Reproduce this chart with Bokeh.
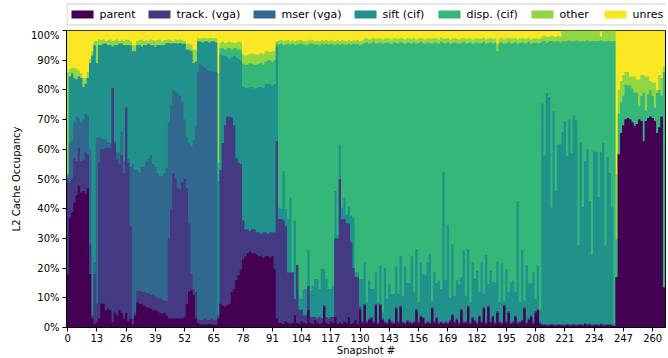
from bokeh.plotting import figure
from bokeh.layouts import column
from bokeh.models import Range1d, FixedTicker
from bokeh.core.properties import value
from bokeh.embed import file_html
from bokeh.resources import INLINE

# Stack order (bottom to top) and viridis colours
series = ["parent", "track. (vga)", "mser (vga)", "sift (cif)", "disp. (cif)", "other", "unres"]
palette = ["#440154", "#443983", "#31688e", "#21918c", "#35b779", "#90d743", "#fde725"]

snapshot = list(range(266))

x_tick_values = [0, 13, 26, 39, 52, 65, 78, 91, 104, 117, 130, 143, 156, 169, 182, 195, 208, 221, 234, 247, 260]
y_tick_values = [0, 10, 20, 30, 40, 50, 60, 70, 80, 90, 100]
y_tick_labels = ["0%", "10%", "20%", "30%", "40%", "50%", "60%", "70%", "80%", "90%", "100%"]

# Cumulative occupancy (%) at the top of each layer, per snapshot
parent_top = [
    18, 37, 38.7, 42, 44.5, 47.6, 45.4, 46, 45, 47, 18, 3, 1.2,
    1.8, 3, 8, 8, 5.7, 6.3, 5.7, 1.8, 5, 4, 5.7, 5, 3, 5, 2, 3, 1, 4, 8.5, 8, 8, 7.4, 6.8, 6.6, 6.3, 5.7, 6, 5.5, 5, 4.6, 5,
    4, 3, 3, 3, 3, 3, 3, 3, 3.5, 8, 12, 12.5, 11, 3, 1.5, 1, 1, 1, 1, 1.2, 1, 1, 1, 3,
    8, 7.5, 7, 7.5, 8, 12, 13, 16, 17.5, 19.5, 23, 24, 25, 25.5, 25, 25, 24.5, 24, 24, 23.5, 24, 24, 23.5, 24, 19.7,
    3, 1.5, 1.5, 1.2, 2, 1.5, 1.2, 1.5, 4, 1.5, 1.2, 2, 1.5, 1.2, 6, 1.5, 1.2, 2.5, 1.5, 1.2,
    1.5, 6.8, 1.5, 1.2, 2, 1.5, 3.5, 1.2, 1.5, 1.2, 2, 1.5, 3.5, 1.2, 1.5, 2.5, 1.2, 6, 1.5,
    7.4, 1.5, 2.5, 3, 1.5, 7.4, 1.2, 7.4, 2.5, 1.5, 1.2, 2.5, 1.5, 1.2, 6.3, 1.5, 6.8, 1.5, 1.2, 2, 1.5, 1.2, 1.5,
    5.7, 1.5, 3.5, 3, 1.2, 1.5, 1.2, 6.3, 1.5, 3, 1.2, 1.5, 1.2, 1.5, 1.2, 2, 4, 1.5, 2.5, 1.2, 5.7, 1.5,
    1.5, 6.8, 1.2, 3, 2, 1.2, 3.5, 1.5, 6.3, 1.2, 6.8, 1.5, 3.5, 1.2, 5, 1.5, 1.2, 7.2, 1.5, 5, 1.2, 1.5, 3.5, 1.2,
    1.5, 2, 6.3, 1.2, 2.5, 3.5, 1.2, 5, 5.7, 1.2,
    0.7, 0.8, 0.6, 0.7, 0.9, 0.7, 0.6, 0.8, 0.7, 0.7, 0.6, 0.8, 0.7, 0.7, 0.9, 0.6, 0.7, 0.8, 0.6, 1.2, 0.7, 1.0,
    0.6, 0.7, 0.8, 0.6, 1.0, 0.7, 0.6, 0.8, 0.7, 0.6,
    0.5, 16.9, 58.3, 65.5, 68, 70, 70.5, 70, 69, 67.8, 68.5, 70, 69.5, 62.7, 69.5, 70.5, 71, 70.5, 69.5, 65.5, 67.3, 71, 13.5,
]

track_top = [
    50, 48.8, 50.4, 57, 56, 60.5, 56, 56.6, 58.8, 58.3, 28, 4, 18,
    8, 55.5, 60, 60, 60.5, 60.5, 60.5, 80.6, 62, 56.6, 55, 58, 52, 74, 55.5, 34, 3, 5, 12.5, 12.5, 12, 12, 11.5, 11.5,
    11, 11, 10.5, 10, 10, 9.5, 9,
    9, 30, 40, 52, 50, 47, 46.5, 49, 50, 47, 35, 18, 13, 12, 3, 2.5, 2.5, 3, 2.5, 2.5, 3, 2.5, 2.5, 4,
    53, 62, 68, 71, 71, 70.6, 68, 57, 55.5, 55, 36, 33, 33, 32.5, 33, 33, 32, 32, 31.5, 32, 32, 31.5, 32, 32, 32,
    62.7, 36.5, 36.5, 36, 34, 18.5, 18.5, 18.5, 9.6, 21, 6, 6, 4, 4, 14, 3.5, 3.5, 3.5, 3, 3.5, 3, 7.5, 3.5, 3, 3.5,
    3.5, 30, 30, 50, 36.5, 36.5, 35, 35, 28.6, 20, 17, 17, 7, 2,
    7.9, 2, 3, 3.5, 2, 7.9, 1.7, 7.9, 3, 2, 1.7, 3, 2, 1.7, 6.8, 2, 7.3, 2, 1.7, 2.5, 2, 1.7, 2,
    6.2, 2, 4, 3.5, 1.7, 2, 1.7, 6.8, 2, 3.5, 1.7, 2, 1.7, 2, 1.7, 2.5, 4.5, 2, 3, 1.7, 6.2, 2,
    2, 7.3, 1.7, 3.5, 2.5, 1.7, 4, 2, 6.8, 1.7, 7.3, 2, 4, 1.7, 5.5, 2, 1.7, 7.7, 2, 5.5, 1.7, 2, 4, 1.7,
    2, 2.5, 6.8, 1.7, 3, 4, 1.7, 5.5, 6.2, 1.7,
    1, 1.1, 0.9, 1, 1.2, 1, 0.9, 1.1, 1, 1, 0.9, 1.1, 1, 1, 1.2, 0.9, 1, 1.1, 0.9, 1.5, 1, 1.3,
    0.9, 1, 1.1, 0.9, 1.3, 1, 0.9, 1.1, 1, 0.9,
    0.5, 16.9, 58.3, 65.5, 68, 70, 70.5, 70, 69, 67.8, 68.5, 70, 69.5, 62.7, 69.5, 70.5, 71, 70.5, 69.5, 65.5, 67.3, 71, 13.5,
]

mser_top = [
    50.5, 62, 63, 69, 71, 70.5, 69, 70, 72, 71.5, 60, 4, 22,
    64, 64, 64, 63.5, 63.5, 62.5, 62, 80.6, 63, 59, 59, 66, 56, 74, 57, 54, 55, 53, 53, 52, 54, 54, 56, 57,
    58, 55, 54, 52, 51, 51, 52,
    53.8, 69, 75, 80, 79.5, 79, 78, 76, 70, 64, 62, 61, 63, 68, 86, 88.5, 88, 87.4, 86.8, 86.2, 86.2, 86, 86, 4,
    53, 62, 68, 71, 71, 70.6, 68, 57, 55.5, 55, 36, 33, 33, 32.5, 33, 33, 32, 32, 31.5, 32, 32, 31.5, 32, 32, 32,
    62.7, 36.5, 36.5, 36, 34, 18.5, 18.5, 18.5, 9.6, 21, 6, 6, 4, 4, 14, 3.5, 3.5, 3.5, 3, 3.5, 3, 7.5, 3.5, 3, 3.5,
    3.5, 30, 30, 50, 36.5, 36.5, 35, 35, 28.6, 20, 17, 17, 7, 2,
    7.9, 2, 3, 3.5, 2, 7.9, 1.7, 7.9, 3, 2, 1.7, 3, 2, 1.7, 6.8, 2, 7.3, 2, 1.7, 2.5, 2, 1.7, 2,
    6.2, 2, 4, 3.5, 1.7, 2, 1.7, 6.8, 2, 3.5, 1.7, 2, 1.7, 2, 1.7, 2.5, 4.5, 2, 3, 1.7, 6.2, 2,
    2, 7.3, 1.7, 3.5, 2.5, 1.7, 4, 2, 6.8, 1.7, 7.3, 2, 4, 1.7, 5.5, 2, 1.7, 7.7, 2, 5.5, 1.7, 2, 4, 1.7,
    2, 2.5, 6.8, 1.7, 3, 4, 1.7, 5.5, 6.2, 1.7,
    1, 1.1, 0.9, 1, 1.2, 1, 0.9, 1.1, 1, 1, 0.9, 1.1, 1, 1, 1.2, 0.9, 1, 1.1, 0.9, 1.5, 1, 1.3,
    0.9, 1, 1.1, 0.9, 1.3, 1, 0.9, 1.1, 1, 0.9,
    0.5, 16.9, 58.3, 65.5, 68, 70, 70.5, 70, 69, 67.8, 68.5, 70, 69.5, 62.7, 69.5, 70.5, 71, 70.5, 69.5, 65.5, 67.3, 71, 13.5,
]

sift_top = [
    51.5, 84.5, 85.5, 84, 83.5, 84.5, 84, 81, 82, 84, 89, 91.5, 95,
    89, 95, 95, 95.5, 95.5, 95, 95, 94.5, 95, 95, 95.5, 95.5, 95, 95, 95, 95, 93, 93, 95, 95, 94.5, 95, 95, 95.5,
    95, 95, 94.5, 95, 95, 95, 95,
    95.7, 95.7, 95.5, 95.7, 95.7, 95.5, 95.7, 95.5, 95.5, 93.5, 93.5, 93, 89, 89.5, 96.3, 96.3, 96, 96.3, 96.3, 96,
    96.3, 96.3, 96, 49.3,
    91.8, 91.5, 91.5, 91, 90.5, 91, 91.5, 91, 90.5, 90, 81, 80.6, 80.6, 81, 81, 80.5, 80.6, 81, 81, 80.6, 82, 82, 82,
    81.5, 82,
    94.5, 40.3, 40, 52.7, 40, 36.5, 43.7, 18.6, 36, 21, 10, 9.6, 13, 13, 26, 12.3, 14, 16.3, 16.3, 13, 19.7, 19.7,
    16.3, 13, 13, 14, 46, 31, 61.6, 40.3, 43.7, 38, 40.9, 37.6, 37, 18.6, 18.6, 16.3, 16.3,
    22, 8.5, 15.8, 13, 13, 18.6, 8.5, 20.8, 5.1, 20, 9.6, 14.6, 11.3, 11.3, 20.5, 11.3, 24, 10.6, 20.5, 15, 15, 24,
    11.9, 26.4, 8.5, 22, 18, 17.5, 22, 24.6, 9, 18.6, 15, 15.8, 13, 52.3, 16, 34.6, 10, 28, 10.7, 16, 14.5, 17, 26,
    10.7, 26.4, 8.5, 22, 16.3, 19, 11.9, 22, 11.4, 24.4, 14.6, 19, 15.2, 15.2, 22.2, 8.5, 21.6, 9, 19.7, 11.9, 15.2,
    15.8, 11.9, 42.6, 8.5, 26, 9, 21, 14.8, 14.8, 18.6, 9.6, 21, 5.7,
    75.4, 58, 79, 77.6, 40.4, 72.8, 46, 61.6, 61.6, 65.8, 69.5, 57.7, 70, 58.8, 71.4, 69.8, 27.7, 62.4, 40.6, 56,
    60, 42.6, 24.5, 59.3, 59, 44, 59, 62, 27.5, 57.4, 52, 40.4,
    1.5, 16.9, 58.3, 65.5, 68, 70, 70.5, 70, 69, 67.8, 68.5, 70, 69.5, 62.7, 69.5, 70.5, 71, 70.5, 69.5, 65.5, 67.3, 71, 13.5,
]

disp_top = [
    51.5, 84.5, 85.5, 84, 83.5, 84.5, 84, 81, 82, 84, 89, 91.5, 95,
    89, 95, 95, 95.5, 95.5, 95, 95, 94.5, 95, 95, 95.5, 95.5, 95, 95, 95, 95, 93, 93, 95, 95, 94.5, 95, 95, 95.5,
    95, 95, 94.5, 95, 95, 95, 95,
    95.7, 95.7, 95.5, 95.7, 95.7, 95.5, 95.7, 95.5, 95.5, 93.5, 93.5, 93, 89, 89.5, 96.3, 96.3, 96, 96.3, 96.3, 96,
    96.3, 96.3, 96, 55.5,
    94, 94, 93.5, 94, 94, 93.5, 94, 94, 93.5, 93.5, 88.8, 88.5, 88.5, 89, 88.8, 88.5, 88.5, 88.8, 89, 88.5, 89.5,
    90, 90, 89.5, 90,
    95.5,
    95.3, 95.5, 95, 95.3, 95.5, 95.2, 95.5, 95, 95.3, 95.5, 95.5, 95.2, 95, 95.3, 95.5, 95.5, 95.2, 95.3, 95, 95.5,
    95.3, 95.5, 95.2, 95.5, 95.3, 95, 95.5, 95.2, 95.5, 95.3, 95, 95.5, 95.2, 95.5, 95.3, 95.5, 95, 95.3,
    95.8, 96, 95.5, 95.8, 96.2, 95.6, 95.8, 96, 95.5, 95.8, 96, 95.7, 95.5, 96, 95.8, 95.6, 96.2, 95.8, 95.5, 96,
    95.8, 95.6, 96, 95.5, 95.8, 96.2, 95.7, 95.5, 96, 95.8, 95.6, 96, 95.8, 95.5, 96.2, 95.8, 95.6, 96, 95.5, 95.8,
    96, 95.7, 95.5, 95.8, 96.2, 95.6, 95.8, 96, 95.5, 95.8, 96, 95.6, 95.8, 96.2, 95.5, 95.8, 96, 95.6, 95.8, 93,
    95.8, 96, 95.5, 95.8, 96.2, 95.6, 95.8, 96, 95.5, 95.8, 96, 95.6, 95.8, 96.2, 95.5, 95.8, 96, 95.6, 95.8,
    96.3, 96.5, 96, 96.3, 96.5, 96.2, 96.3, 96.5, 96,
    96.5, 96.3, 96.5, 96.6, 96.3, 96.5, 96.6, 96.5, 96.3, 96.5, 96.5, 96.6, 96.3, 96.5, 96.5, 96.3, 96.5, 96.6,
    96.5, 96.3, 96.5, 96.5, 96.3,
    96.5, 29.7, 72, 76, 78, 81.8, 81.5, 81.5, 80.5, 79, 79, 74.5, 78, 79, 73, 78.5, 80, 78, 74, 79, 80, 78, 86,
]

other_top = [
    86, 87, 87.5, 87.5, 87, 86.5, 85.5, 84, 84, 86, 90.5, 93, 96.5,
    96.5, 97, 96.8, 97, 96.5, 96.8, 97, 96.5, 96.8, 97, 96.5, 96.8, 96.5, 97, 96.8, 96.5, 95, 95, 96.5, 96.8, 97,
    96.5, 96.8, 96.5, 97, 96.8, 96.5, 96.8, 97, 96.5, 96.8,
    96.8, 97, 96.8, 96.5, 97, 96.8, 97, 96.8, 96.5, 95.5, 95.5, 95.3, 93.5, 93.5, 97.5, 97.3, 97.5, 97.5, 97.3,
    97.5, 97.5, 97.3, 97.5, 85.7,
    96, 96.3, 95.8, 96, 96.3, 96, 95.8, 96, 96.3, 96, 92, 91.5, 91.8, 92, 92.3, 92, 91.8, 92, 92.3, 92, 93, 93,
    92.8, 93, 93,
    96.5,
    96.6, 96.8, 96.4, 96.6, 96.9, 96.5, 96.7, 96.4, 96.6, 96.8, 96.8, 96.5, 96.4, 96.6, 96.9, 96.7, 96.5, 96.6,
    96.4, 96.8, 96.6, 96.8, 96.5, 96.7, 96.6, 96.4, 96.8, 96.5, 96.7, 96.6, 96.4, 96.8, 96.5, 96.7, 96.6, 96.8,
    96.4, 96.6,
    97.3, 97.5, 97, 97.3, 97.6, 97.2, 97.3, 97.5, 97, 97.3, 97.5, 97.2, 97, 97.5, 97.3, 97.2, 97.6, 97.3, 97, 97.5,
    97.3, 97.2, 97.5, 97, 97.3, 97.6, 97.2, 97, 97.5, 97.3, 97.2, 97.5, 97.3, 97, 97.6, 97.3, 97.2, 97.5, 97, 97.3,
    97.5, 97.2, 97, 97.3, 97.6, 97.2, 97.3, 97.5, 97, 97.3, 97.5, 97.2, 97.3, 97.6, 97, 97.3, 97.5, 97.2, 97.3, 95.5,
    97.3, 97.5, 97, 97.3, 97.6, 97.2, 97.3, 97.5, 97, 97.3, 97.5, 97.2, 97.3, 97.6, 97, 97.3, 97.5, 97.2, 97.3,
    98, 98.2, 97.8, 98, 98.3, 98, 97.8, 98.2, 98,
    100, 100, 100, 100, 100, 100, 100, 100, 100, 100, 100, 100, 100, 100, 100, 100, 100, 98, 100, 100, 100, 100, 100,
    100, 51.6, 80, 83, 85, 86, 86, 84.5, 84.5, 84.5, 83.5, 83.5, 85, 85, 84.5, 84.5, 83, 82.5, 82.5, 80, 85, 84, 88,
]

full_scale = 100  # every snapshot sums to 100 % occupancy

levels = [parent_top, track_top, mser_top, sift_top, disp_top, other_top]
for lv in levels:
    assert len(lv) == len(snapshot), len(lv)
levels.append([full_scale] * len(snapshot))

# make the stack monotonic (a layer never ends below the one under it)
stacked = []
prev = [0] * len(snapshot)
for lv in levels:
    cur = [max(t, b) for t, b in zip(lv, prev)]
    stacked.append(cur)
    prev = cur

font = "DejaVu Sans"
WIDTH = 668
LEGEND_H = 29
MAIN_H = 329
FRAME_LEFT, FRAME_RIGHT = 66, WIDTH - 3

# ---- main stacked-bar chart ----
p = figure(
    width=WIDTH, height=MAIN_H,
    x_range=Range1d(-0.5, 265.7), y_range=Range1d(0, 100),
    output_backend="svg", toolbar_location=None,
    min_border_left=FRAME_LEFT, min_border_right=WIDTH - FRAME_RIGHT, min_border_top=1, min_border_bottom=30,
    background_fill_color="white", border_fill_color="white",
)


def column_outline(tops):
    """Step outline of unit-wide bars from 0 up to `tops`, as one polygon."""
    xs, ys = [], []
    for i, t in zip(snapshot, tops):
        xs += [i - 0.5, i + 0.5]
        ys += [t, t]
    xs += [snapshot[-1] + 0.5, snapshot[0] - 0.5]
    ys += [0, 0]
    return xs, ys


# Each layer is filled from 0 up to its cumulative top, drawn from the top layer
# downwards, so neighbouring bars of one layer form a single seamless shape.
for color, tops in reversed(list(zip(palette, stacked))):
    xs, ys = column_outline(tops)
    p.patch(x=xs, y=ys, fill_color=color, line_color=None)

p.xgrid.visible = False
p.ygrid.visible = False
p.outline_line_color = "black"
p.outline_line_width = 1

for ax in (p.xaxis[0], p.yaxis[0]):
    ax.axis_line_color = "black"
    ax.major_tick_line_color = "black"
    ax.major_tick_out = 4
    ax.major_tick_in = 0
    ax.minor_tick_line_color = None
    ax.major_label_text_font = font
    ax.major_label_text_font_size = "10px"
    ax.major_label_text_color = "black"
    ax.axis_label_text_font = font
    ax.axis_label_text_font_size = "10px"
    ax.axis_label_text_font_style = "normal"
    ax.axis_label_text_color = "black"

p.xaxis.ticker = FixedTicker(ticks=x_tick_values)
p.xaxis.major_label_standoff = 2
p.xaxis.axis_label = "Snapshot #"
p.xaxis.axis_label_standoff = 0

p.yaxis.ticker = FixedTicker(ticks=y_tick_values)
p.yaxis.major_label_overrides = {v: s for v, s in zip(y_tick_values, y_tick_labels)}
p.yaxis.major_label_standoff = 3
p.yaxis.axis_label = "L2 Cache Occupancy"
p.yaxis.axis_label_standoff = 6

# ---- legend strip above the chart ----
# The column layout lines this strip's frame up with the chart frame, so its x
# range is expressed in page pixels across that frame; y points down.
lg = figure(
    width=WIDTH, height=LEGEND_H,
    x_range=Range1d(FRAME_LEFT, FRAME_RIGHT), y_range=Range1d(LEGEND_H, 0),
    output_backend="svg", toolbar_location=None,
    min_border_left=FRAME_LEFT, min_border_right=WIDTH - FRAME_RIGHT, min_border_top=0, min_border_bottom=0,
    x_axis_location=None, y_axis_location=None,
    outline_line_color=None, background_fill_color="white", border_fill_color="white",
)
lg.xgrid.visible = False
lg.ygrid.visible = False

slot_x = [71, 148, 253, 354, 438, 531, 604]   # left edge of each legend swatch
swatch_w = 22
label_gap = 6

lg.quad(left=[FRAME_LEFT + 0.5], right=[WIDTH + 20], top=[3.5], bottom=[24.5],
        fill_color="white", line_color="#cccccc", line_width=1)
lg.quad(left=slot_x, right=[x + swatch_w for x in slot_x], top=[10] * len(slot_x), bottom=[18] * len(slot_x),
        fill_color=palette, line_color=None)
lg.text(x=[x + swatch_w + label_gap for x in slot_x], y=[14] * len(slot_x), text=series,
        text_font=value(font), text_font_size="11px", text_color="black",
        text_align="left", text_baseline="middle")

layout = column(lg, p, spacing=0)

open("out.html", "w").write(file_html(layout, INLINE))
